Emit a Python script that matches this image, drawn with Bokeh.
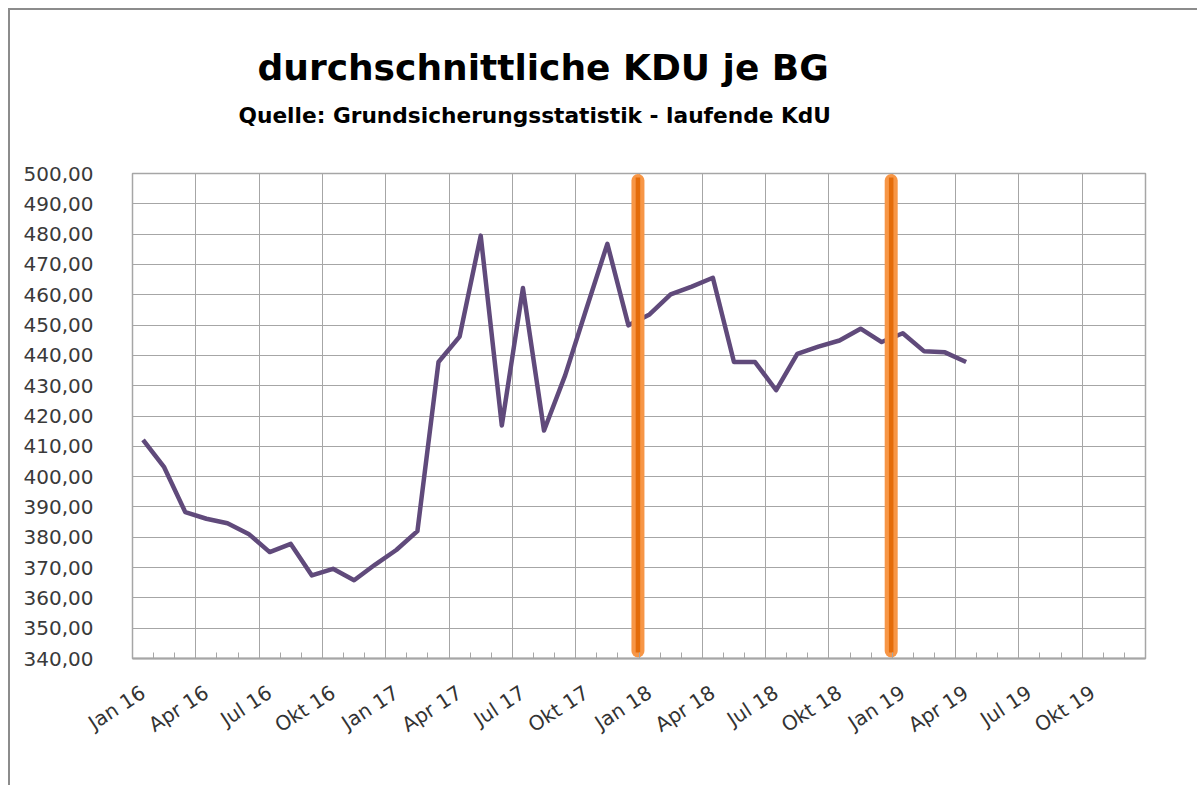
import math
from bokeh.plotting import figure
from bokeh.models import FixedTicker, Title, InlineStyleSheet, Range1d
from bokeh.embed import file_html
from bokeh.resources import INLINE

# ---------------- data ----------------
month_names = ["Jan", "Feb", "Mrz", "Apr", "Mai", "Jun", "Jul", "Aug", "Sep", "Okt", "Nov", "Dez"]
years = ["16", "17", "18", "19"]
categories = [f"{m} {y}" for y in years for m in month_names]

# durchschnittliche KDU je BG, Jan 16 .. Apr 19
kdu_values = [
    412.1, 403.1, 388.3, 386.1, 384.6, 381.1, 375.1, 377.8, 367.4, 369.6, 365.8, 371.0,
    375.8, 382.0, 437.8, 446.2, 479.5, 416.9, 462.2, 415.2, 433.4, 455.2, 476.8, 449.9,
    453.5, 460.1, 462.7, 465.6, 437.8, 437.8, 428.5, 440.5, 442.9, 444.9, 448.8, 444.4,
    447.3, 441.4, 441.0, 437.8,
]

y_ticks = list(range(340, 510, 10))
label_every = 3
marker_after = ["Dez 17", "Dez 18"]   # orange markers at the turn of the year

title_text = "durchschnittliche KDU je BG"
subtitle_text = "Quelle: Grundsicherungsstatistik - laufende KdU"

# ---------------- figure ----------------
W, H = 1197, 785
FL, FT, FR, FB = 132, 173, 1145, 658   # frame edges in canvas pixels

css = InlineStyleSheet(css=""":host {
  background:
    linear-gradient(#8C8C8C, #8C8C8C) 8px 8px / 2px 100% no-repeat,
    linear-gradient(#8C8C8C, #8C8C8C) 8px 8px / 100% 2px no-repeat;
}""")

p = figure(
    width=W, height=H, output_backend="svg", toolbar_location=None,
    x_range=Range1d(-0.5, len(categories) - 0.5), y_range=Range1d(y_ticks[0], y_ticks[-1]),
    min_border_left=FL, min_border_right=W - FR, min_border_top=FT, min_border_bottom=H - FB,
    border_fill_color=None, background_fill_color="white",
    outline_line_color="#A6A6A6", outline_line_width=1.5,
    stylesheets=[css],
)

grid_col = "#A6A6A6"
p.ygrid.ticker = FixedTicker(ticks=y_ticks)
p.ygrid.grid_line_color = grid_col
p.ygrid.grid_line_width = 1
p.xgrid.ticker = FixedTicker(ticks=[i - 0.5 for i in range(0, len(categories) + 1, label_every)])
p.xgrid.grid_line_color = grid_col
p.xgrid.grid_line_width = 1

# x axis
xt = list(range(0, len(categories), label_every))
p.xaxis.ticker = FixedTicker(ticks=xt, minor_ticks=[i - 0.5 for i in range(len(categories) + 1)])
p.xaxis.major_label_overrides = {i: categories[i] for i in xt}
p.xaxis.major_label_orientation = math.radians(33)
p.xaxis.major_tick_line_color = None
p.xaxis.major_tick_in = 0
p.xaxis.major_tick_out = 0
p.xaxis.minor_tick_in = 6
p.xaxis.minor_tick_out = 0
p.xaxis.minor_tick_line_color = grid_col
p.xaxis.axis_line_color = grid_col
p.xaxis.axis_line_width = 2
p.xaxis.major_label_standoff = 32
p.xaxis.major_label_text_font = "DejaVu Sans"
p.xaxis.major_label_text_font_size = "20px"
p.xaxis.major_label_text_color = "#333333"

# y axis
p.yaxis.ticker = FixedTicker(ticks=y_ticks)
p.yaxis.major_label_overrides = {v: f"{v:.2f}".replace(".", ",") for v in y_ticks}
p.yaxis.axis_line_color = None
p.yaxis.major_tick_line_color = None
p.yaxis.minor_tick_line_color = None
p.yaxis.major_tick_in = 0
p.yaxis.major_tick_out = 0
p.yaxis.major_label_standoff = 39
p.yaxis.major_label_text_font = "DejaVu Sans"
p.yaxis.major_label_text_font_size = "20px"
p.yaxis.major_label_text_color = "#3A3A3A"

# data line
xs = list(range(len(kdu_values)))
p.line(xs, kdu_values, line_color="#604A7B", line_width=4.5, line_join="round")

# orange markers
mx = [categories.index(m) + 0.45 for m in marker_after]
lo_o, hi_o = 342.5, 497.7
lo_i, hi_i = 342.0, 498.7
p.segment(x0=mx, y0=[lo_o] * len(mx), x1=mx, y1=[hi_o] * len(mx),
          line_color="#F79646", line_width=13, line_cap="round")
p.segment(x0=mx, y0=[lo_i] * len(mx), x1=mx, y1=[hi_i] * len(mx),
          line_color="#E46C0A", line_width=4.5, line_cap="butt")

# titles (subtitle first: nearest to the frame)
p.add_layout(Title(text=subtitle_text, align="left", offset=106, standoff=92,
                   text_font="DejaVu Sans", text_font_style="bold", text_font_size="21.7px",
                   text_color="#000000"), "above")
p.add_layout(Title(text=title_text, align="left", offset=125, standoff=-66,
                   text_font="DejaVu Sans", text_font_style="bold", text_font_size="36px",
                   text_color="#000000"), "above")

open("out.html", "w").write(file_html(p, INLINE))
